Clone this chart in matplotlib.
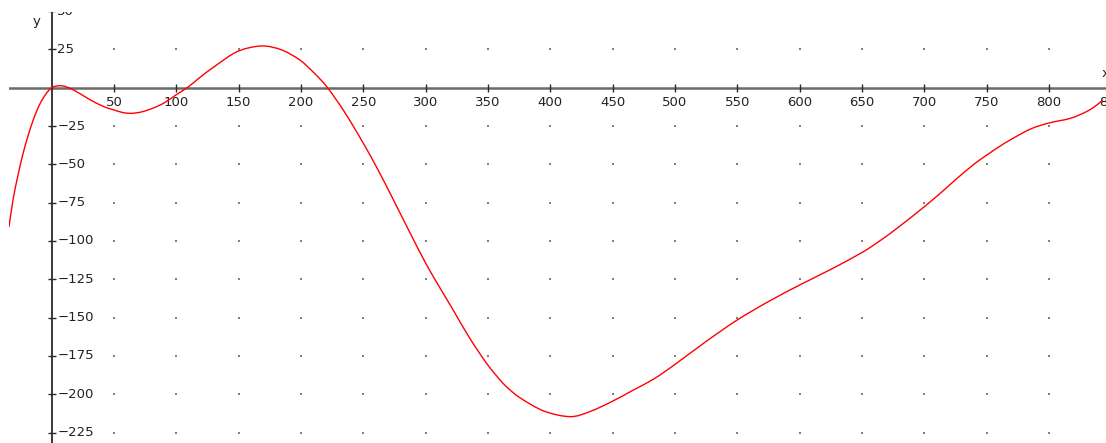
import numpy as np
import matplotlib
matplotlib.use('Agg')
from matplotlib import pyplot as plt
from matplotlib.path import Path
from matplotlib.patches import PathPatch

# points
curve_x = [-34.3, -31, -27, -23, -19, -15, -10, -5, 0, 6, 12, 20, 30, 39, 45, 50, 57, 64,
           72, 81, 90, 100, 110, 119, 130, 146, 158, 171, 185, 199, 210, 221, 235, 250,
           262, 274, 287, 300, 311, 322, 335, 349, 360, 366, 376, 395, 416, 432, 450,
           466, 483, 500, 525, 550, 575, 600, 625, 650, 665, 680, 700, 715, 726, 740,
           750, 760, 769, 785, 800, 817, 830, 838, 843]
curve_y = [-91, -73, -57, -43, -31.5, -21.5, -11.5, -4.5, 0, 1.3, 0.5, -2.6, -7.5, -11.3,
           -13.3, -14.5, -16.2, -16.7, -15.8, -13.4, -10, -4.5, 0.8, 6.8, 13.5, 22.4, 26,
           27.2, 24.5, 18.1, 10, 0.3, -16, -36.3, -54, -73, -94, -114.5, -130, -145, -163,
           -180, -191, -196, -202.5, -211, -214.6, -211.2, -204.5, -197.5, -190, -180.5,
           -165.5, -151.5, -139.5, -128.7, -118.5, -107.5, -99.5, -90.5, -77.6, -67.3,
           -59.3, -49.8, -44, -38.5, -34, -27, -23, -20, -15.6, -11.5, -8]

x_ticks = list(range(50, 900, 50))
y_ticks = [50, 25, -25, -50, -75, -100, -125, -150, -175, -200, -225]


def smooth_path(xs, ys):
    # draw the read points as a smooth curve (Catmull-Rom segments as cubic beziers)
    p = np.column_stack([xs, ys]).astype(float)
    p = np.vstack([p[0], p, p[-1]])
    verts = [p[1]]
    codes = [Path.MOVETO]
    for i in range(1, len(p) - 2):
        c1 = p[i] + (p[i + 1] - p[i - 1]) / 6.0
        c2 = p[i + 1] - (p[i + 2] - p[i]) / 6.0
        verts += [c1, c2, p[i + 1]]
        codes += [Path.CURVE4] * 3
    return Path(verts, codes)


fig = plt.figure(figsize=(11.06, 4.43), dpi=100)
ax = fig.add_axes([9 / 1106, 0, 1097 / 1106, 431 / 443])
ax.set_xlim(-34.25, 845.7)
ax.set_ylim(-231.8, 49.4)
ax.axis('off')

# dotted grid: one dot per grid intersection
gx, gy = np.meshgrid(x_ticks, y_ticks)
ax.scatter(gx.ravel(), gy.ravel(), s=1.2, marker='s', color='#808080', lw=0, zorder=1)

# axes
ax.axhline(0, color='#6a6a6a', lw=1.8, zorder=2)
ax.axvline(0, color='#2a2a2a', lw=1.3, zorder=2)
ax.plot(x_ticks, [0] * len(x_ticks), ls='none', marker='|', ms=6, mew=1.0,
        color='#2a2a2a', zorder=3)
ax.plot([0] * len(y_ticks), y_ticks, ls='none', marker='_', ms=6, mew=1.0,
        color='#2a2a2a', zorder=3)

for t in x_ticks:
    ax.annotate(str(t), (t, 0), xytext=(0, -6), textcoords='offset points',
                ha='center', va='top', fontsize=9.5, color='#222222',
                annotation_clip=False, clip_on=True)
for t in y_ticks:
    ax.annotate('\u2212' + str(-t) if t < 0 else str(t), (0, t), xytext=(4, 0),
                textcoords='offset points', ha='left', va='center',
                fontsize=9.5, color='#222222', annotation_clip=False, clip_on=True)

ax.annotate('x', (845.7, 0), xytext=(-3, 10), textcoords='offset points',
            ha='left', va='center', fontsize=9.5, color='#222222',
            annotation_clip=False, clip_on=True)
ax.annotate('y', (0, 49.4), xytext=(-11, -7), textcoords='offset points',
            ha='center', va='center', fontsize=9.5, color='#222222')

ax.add_patch(PathPatch(smooth_path(curve_x, curve_y), fill=False,
                       edgecolor='#ff0000', lw=1.0, zorder=4))

fig.savefig('out.png', dpi=100)
